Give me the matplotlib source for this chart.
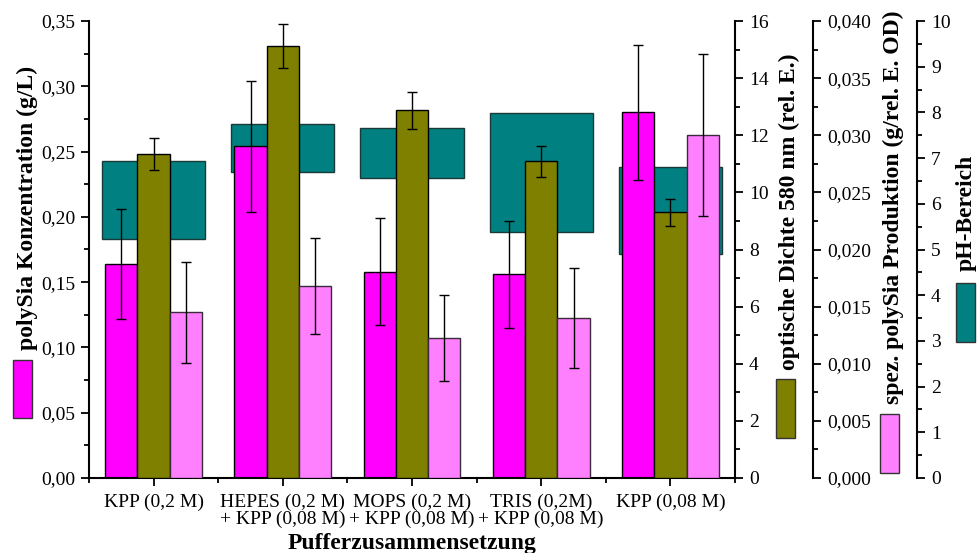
import numpy as np
import matplotlib
matplotlib.use("Agg")
import matplotlib.pyplot as plt
from matplotlib.patches import Rectangle
from matplotlib.ticker import MultipleLocator, FuncFormatter

# ---- Data ----
buffers = ["KPP (0,2 M)", "HEPES (0,2 M)\n+ KPP (0,08 M)", "MOPS (0,2 M)\n+ KPP (0,08 M)",
           "TRIS (0,2M)\n+ KPP (0,08 M)", "KPP (0,08 M)"]
conc = [0.164, 0.254, 0.158, 0.156, 0.280]
conc_err = [0.042, 0.050, 0.041, 0.041, 0.052]
od = [11.35, 15.12, 12.87, 11.09, 9.30]
od_err = [0.57, 0.76, 0.64, 0.55, 0.46]
spez = [0.0145, 0.0168, 0.01225, 0.0140, 0.0300]
spez_err = [0.0044, 0.0042, 0.0038, 0.0044, 0.0071]
ph_low = [5.23, 6.70, 6.56, 5.38, 4.90]
ph_high = [6.94, 7.75, 7.65, 7.99, 6.80]

c_conc = "#FF00FF"
c_od = "#808000"
c_spez = "#FF80FF"
c_ph = "#008080"

plt.rcParams['font.family'] = ['Liberation Serif', 'DejaVu Serif']
plt.rcParams['mathtext.default'] = 'regular'

W, H = 977, 553
fig = plt.figure(figsize=(W / 100, H / 100), dpi=100)
fig.patch.set_facecolor("white")

# axes box in pixels: x 89..735, y 21..478 (from top)
ax = fig.add_axes([89 / W, 1 - 478 / H, (735 - 89) / W, (478 - 21) / H])
ax_ph = ax.twinx()
ax_od = ax.twinx()
ax_sp = ax.twinx()

ax_ph.set_zorder(0)
ax.set_zorder(1)
ax_od.set_zorder(2)
ax_sp.set_zorder(3)
for a in (ax, ax_ph, ax_od, ax_sp):
    a.patch.set_visible(False)

x = np.arange(1, len(buffers) + 1)
bw = 0.25
ekw = dict(ecolor="black", elinewidth=1.0, capsize=3.3, capthick=1.0)

# ---- pH range (floating bars, behind everything) ----
ph_low = np.array(ph_low)
ph_high = np.array(ph_high)
ax_ph.bar(x, ph_high - ph_low, bottom=ph_low, width=0.8, color=c_ph,
          edgecolor="#1a3a3a", linewidth=1.0)

# ---- three data series ----
ax.bar(x - bw, conc, width=bw, color=c_conc, edgecolor="black", linewidth=1.0,
       yerr=conc_err, error_kw=ekw)
ax_od.bar(x, od, width=bw, color=c_od, edgecolor="black", linewidth=1.0,
          yerr=od_err, error_kw=ekw)
ax_sp.bar(x + bw, spez, width=bw, color=c_spez, edgecolor="#3a2a3a", linewidth=1.0,
          yerr=spez_err, error_kw=ekw)

ax.set_xlim(0.5, 5.5)
ax.set_ylim(0, 0.35)
ax_od.set_ylim(0, 16)
ax_sp.set_ylim(0, 0.040)
ax_ph.set_ylim(0, 10)

# ---- spines ----
lw = 1.5
for s in ("top", "right"):
    ax.spines[s].set_visible(False)
ax.spines["left"].set_linewidth(lw)
ax.spines["bottom"].set_linewidth(lw)
for a in (ax_ph, ax_od, ax_sp):
    for s in ("top", "bottom", "left"):
        a.spines[s].set_visible(False)
    a.spines["right"].set_linewidth(lw)
ax_sp.spines["right"].set_position(("axes", (813 - 89) / (735 - 89)))
ax_ph.spines["right"].set_position(("axes", (917 - 89) / (735 - 89)))

# ---- ticks ----
def comma(fmt):
    return FuncFormatter(lambda v, p: (fmt % v).replace(".", ","))

ax.yaxis.set_major_locator(MultipleLocator(0.05))
ax.yaxis.set_minor_locator(MultipleLocator(0.025))
ax.yaxis.set_major_formatter(comma("%.2f"))
ax_od.yaxis.set_major_locator(MultipleLocator(2))
ax_od.yaxis.set_minor_locator(MultipleLocator(1))
ax_od.yaxis.set_major_formatter(comma("%.0f"))
ax_sp.yaxis.set_major_locator(MultipleLocator(0.005))
ax_sp.yaxis.set_minor_locator(MultipleLocator(0.0025))
ax_sp.yaxis.set_major_formatter(comma("%.3f"))
ax_ph.yaxis.set_major_locator(MultipleLocator(1))
ax_ph.yaxis.set_minor_locator(MultipleLocator(0.5))
ax_ph.yaxis.set_major_formatter(comma("%.0f"))

ax.set_xticks(x)
ax.set_xticklabels(buffers, linespacing=1.0)
ax.set_xticks(np.arange(0.5, 6, 1.0), minor=True)

for a in (ax, ax_ph, ax_od, ax_sp):
    a.tick_params(which="major", direction="out", length=6, width=1.3, labelsize=14, pad=4)
    a.tick_params(which="minor", direction="out", length=3.5, width=1.3)
ax.tick_params(axis="x", which="major", pad=5)

# ---- axis titles with colour keys (Origin style) ----
def key(x0, x1, ytop, ybot, color, text, tx, tbot):
    fig.add_artist(Rectangle((x0 / W, 1 - ybot / H), (x1 - x0) / W, (ybot - ytop) / H,
                             transform=fig.transFigure, facecolor=color,
                             edgecolor="#333333", linewidth=1.0))
    fig.text(tx / W, 1 - tbot / H, text, rotation=90, ha="center", va="bottom",
             fontsize=17, fontweight="bold")

key(13, 32, 360, 418, c_conc, "polySia Konzentration (g/L)", 27, 350)
key(776, 795, 379, 438, c_od, "optische Dichte 580 nm (rel. E.)", 789, 370)
key(880, 899, 414, 473, c_spez, "spez. polySia Produktion (g/rel. E. OD)", 893, 404)
key(956, 975, 283, 342, c_ph, "pH-Bereich", 966, 271)

fig.text(412 / W, 1 - 543 / H, "Pufferzusammensetzung", ha="center", va="center",
         fontsize=17, fontweight="bold")

fig.savefig("out.png", dpi=100)
